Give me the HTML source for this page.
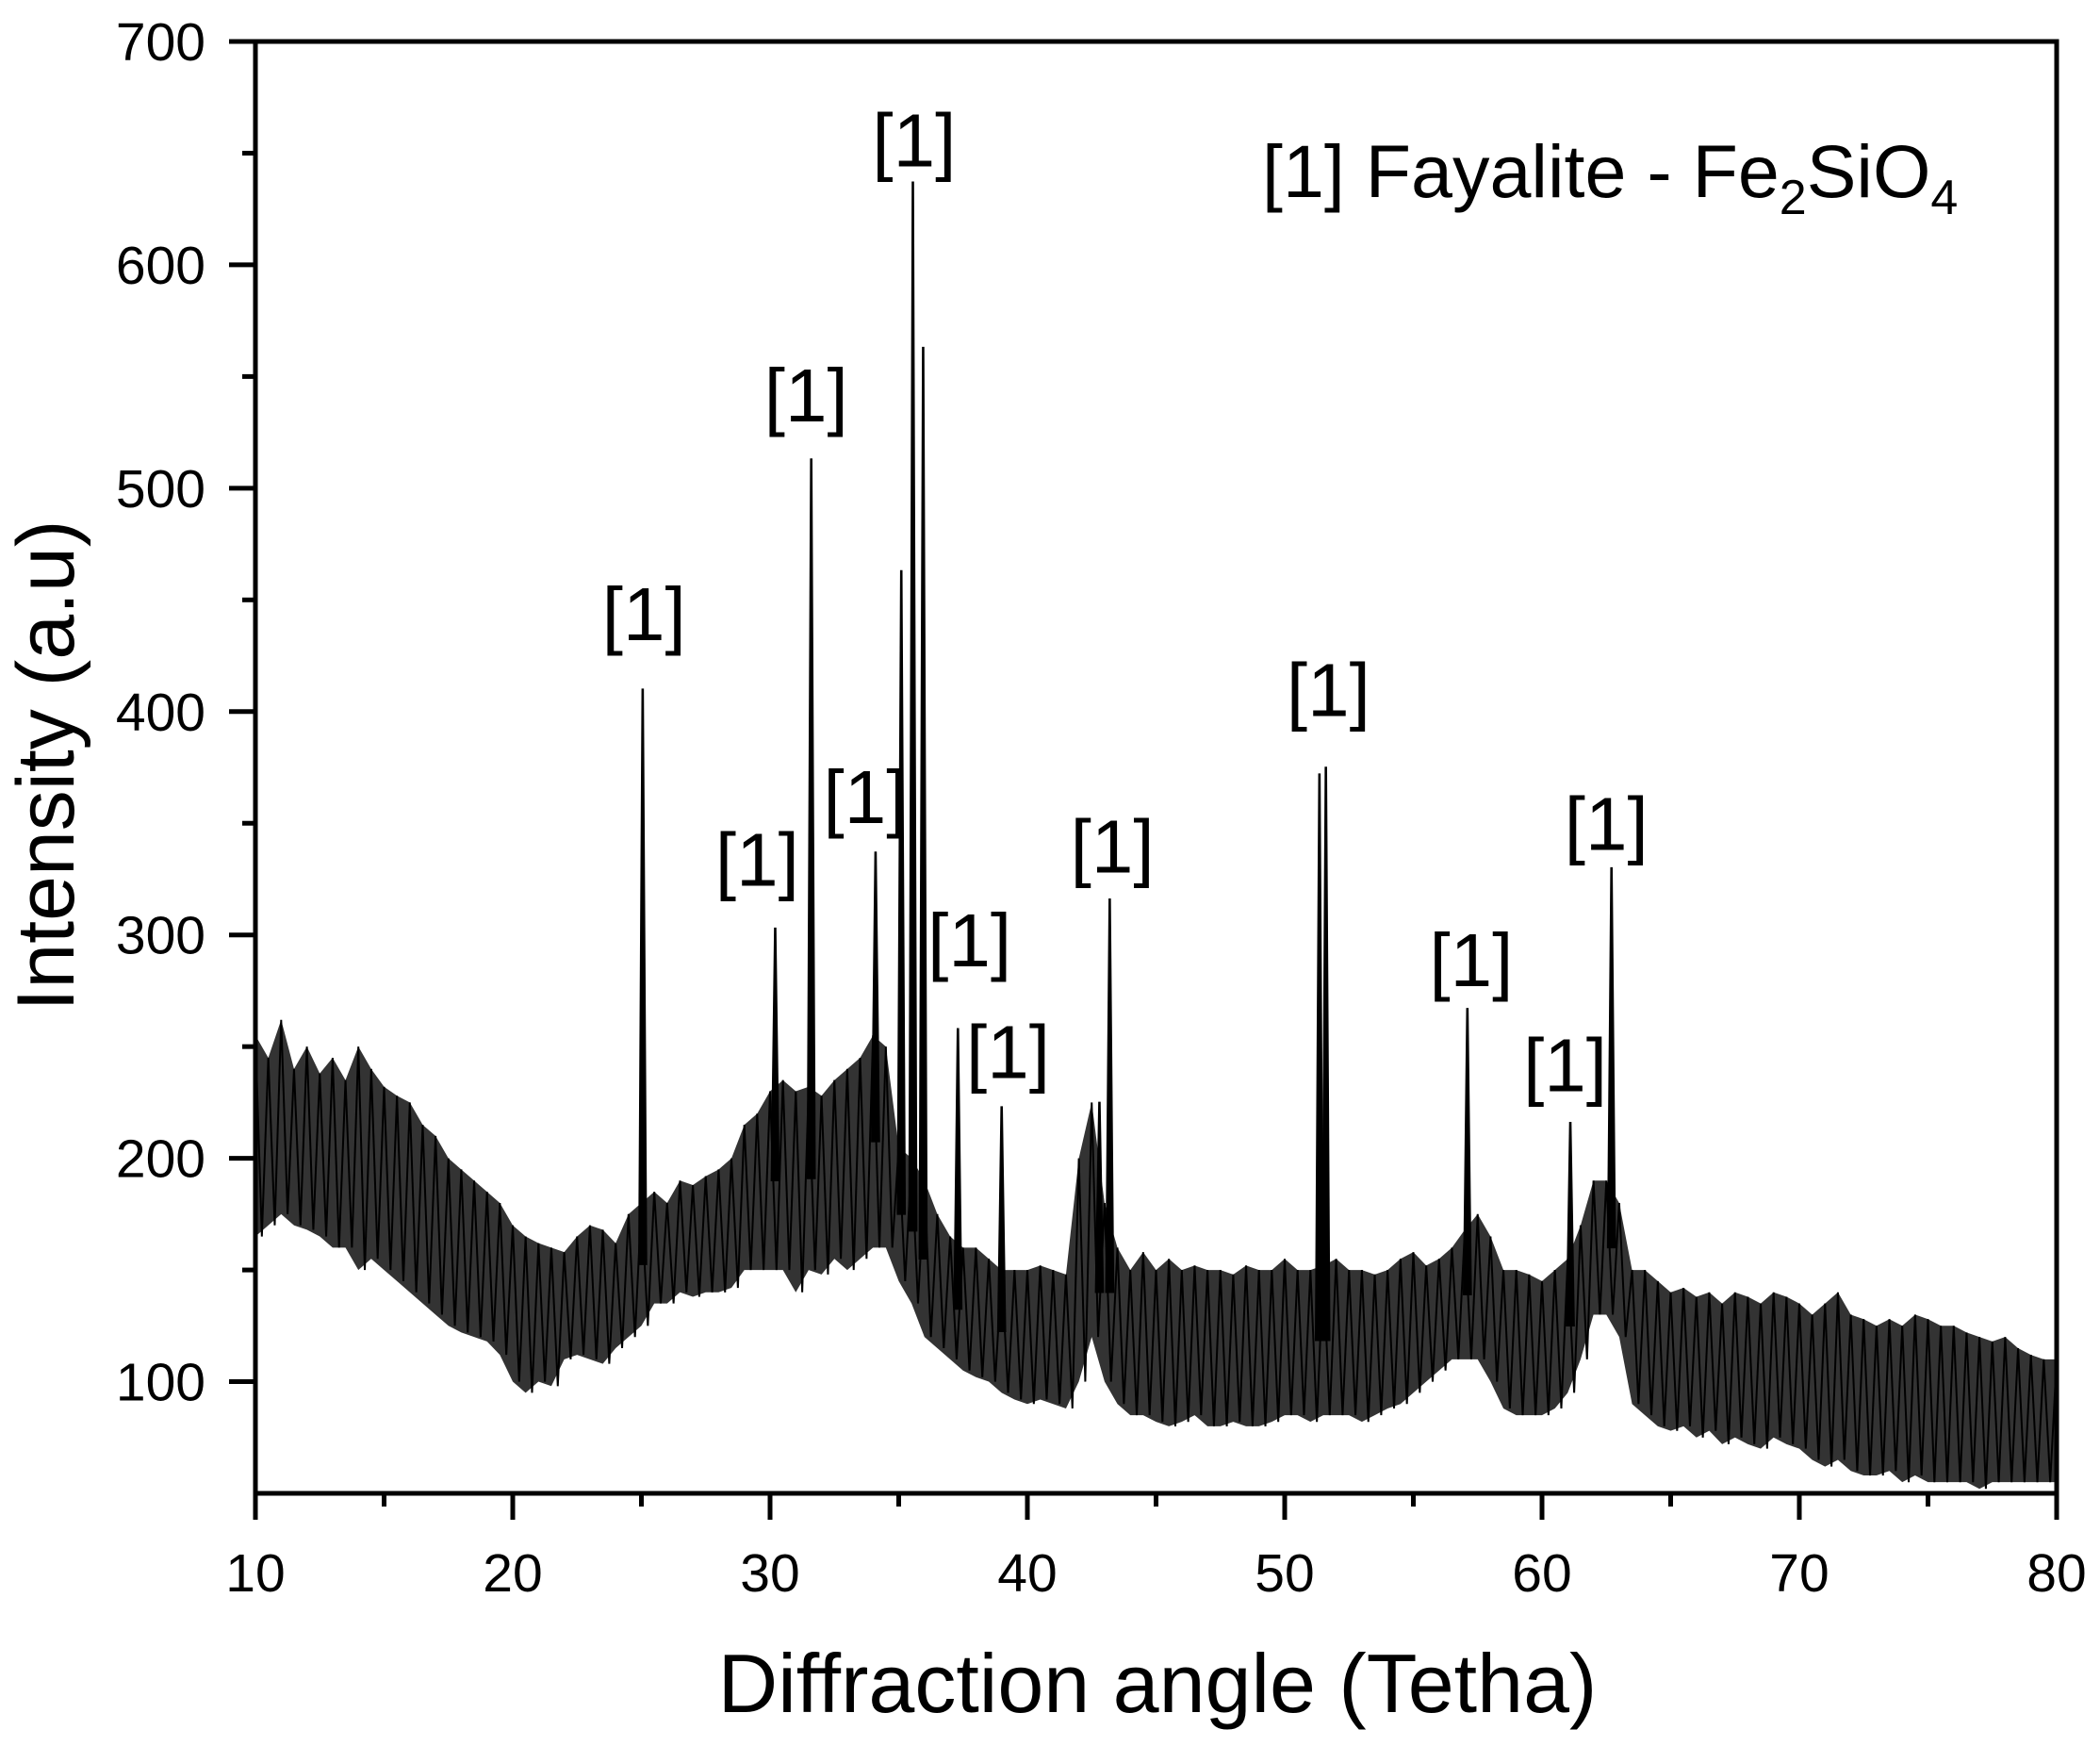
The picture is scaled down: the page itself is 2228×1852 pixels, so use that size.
<!DOCTYPE html>
<html><head><meta charset="utf-8"><style>
html,body{margin:0;padding:0;background:#fff}
svg{display:block;font-family:"Liberation Sans",Arial,sans-serif}
</style></head><body>
<svg id="chart" width="2228" height="1852" viewBox="0 0 2228 1852" xmlns="http://www.w3.org/2000/svg">
<g id="plot"></g>
<text x="1228" y="1816" font-size="88" text-anchor="middle">Diffraction angle (Tetha)</text>
<text transform="translate(78,812) rotate(-90)" font-size="86" text-anchor="middle">Intensity (a.u)</text>
<text x="1339" y="209" font-size="79">[1] Fayalite - Fe<tspan font-size="52" dy="18">2</tspan><tspan dy="-18">SiO</tspan><tspan font-size="52" dy="18">4</tspan></text>
</svg>
<script>
// noise envelope, 0.5° steps from 10 to 80
const angleStart = 10, angleStep = 0.5;
const upper = [255,245,262,240,250,238,245,235,250,240,232,228,225,215,210,200,195,190,185,180,170,165,162,160,158,165,170,168,162,175,180,185,180,190,188,192,195,200,215,220,230,235,230,232,228,235,240,245,255,250,205,200,190,175,165,160,160,155,150,150,150,152,150,148,200,225,180,160,150,158,150,155,150,152,150,150,148,152,150,150,155,150,150,152,155,150,150,148,150,155,158,152,155,160,168,175,165,150,150,148,145,150,155,170,190,190,180,150,150,145,140,142,138,140,135,140,138,135,140,138,135,130,135,140,130,128,125,128,125,130,128,125,125,122,120,118,120,115,112,110,110];
const lower = [165,170,175,170,168,165,160,160,150,155,150,145,140,135,130,125,122,120,118,112,100,95,100,98,110,112,110,108,115,120,125,135,135,140,138,140,140,142,150,150,150,150,140,150,148,155,150,155,160,160,145,135,120,115,110,105,102,100,95,92,90,92,90,88,100,120,100,90,85,85,82,80,82,85,80,80,82,80,80,82,85,85,82,85,85,85,82,85,88,90,95,100,105,110,110,110,100,88,85,85,85,88,95,110,130,130,120,90,85,80,78,80,75,78,72,75,72,70,75,72,70,65,62,65,60,58,58,60,55,58,55,55,55,55,52,55,55,55,55,55,55];
// peaks
const peakAngle = [25.05,30.2,31.6,34.1,35.1,35.55,35.95,37.3,39.0,42.8,43.2,51.35,51.6,57.1,61.1,62.7];
const peakHeight = [410,303,513,337,463,637,563,258,223,225,316,372,375,267,216,330];
const labelAngle = [25.1,31.4,35.6,29.5,33.7,37.75,39.25,43.3,51.7,57.25,60.9,62.5];
const labelValue = [432,530,644,322,350,286,236,328,398,277,230,338];
const xTicks = [10,20,30,40,50,60,70,80];
const yTicks = [100,200,300,400,500,600,700];

const L=271,R=2182,T=44,B=1584,xmin=10,xmax=80,ymin=50,ymax=700;
const X=v=>L+(v-xmin)/(xmax-xmin)*(R-L);
const Y=v=>B-(v-ymin)/(ymax-ymin)*(B-T);
const NS="http://www.w3.org/2000/svg";
const g=document.getElementById('plot');
function mk(t,a){const e=document.createElementNS(NS,t);for(const k in a)e.setAttribute(k,a[k]);g.appendChild(e);return e;}

let pts=[];
for(let i=0;i<upper.length;i++)pts.push(X(angleStart+i*angleStep)+','+Y(upper[i]));
for(let i=lower.length-1;i>=0;i--)pts.push(X(angleStart+i*angleStep)+','+Y(lower[i]));
const band=mk('polygon',{points:pts.join(' '),fill:'#000','fill-opacity':'0.8',stroke:'none'});


let z=[];
for(let i=0;i<upper.length;i++){
  const a=angleStart+i*angleStep;
  z.push(X(a)+','+Y(upper[i]));
  if(i<upper.length-1)z.push(X(a+angleStep/2)+','+Y(lower[i]));
}
const zz=mk('polyline',{points:z.join(' '),fill:'none',stroke:'#000','stroke-width':'2'});


for(let i=0;i<peakAngle.length;i++){
  const a=peakAngle[i],idx=Math.round((a-angleStart)/angleStep);
  const base=(upper[idx]+lower[idx])/2;
  const p=mk('polygon',{points:`${X(a-0.15)},${Y(base)} ${X(a-0.02)},${Y(peakHeight[i])} ${X(a+0.02)},${Y(peakHeight[i])} ${X(a+0.15)},${Y(base)}`,fill:'#000',stroke:'#000','stroke-width':'1.5'});
  
  
}
for(let i=0;i<labelAngle.length;i++){
  const t=mk('text',{x:X(labelAngle[i]),y:Y(labelValue[i]),'font-size':'80','text-anchor':'middle'});
  t.textContent='[1]';
  
  
}
const fr=mk('rect',{x:L,y:T,width:R-L,height:B-T,fill:'none',stroke:'#000','stroke-width':'5'});


for(let v=10;v<=80;v+=5){
  const major=v%10===0;
  const l=mk('line',{x1:X(v),x2:X(v),y1:B,y2:B+(major?28:14),stroke:'#000','stroke-width':'5'});
  
  
}
xTicks.forEach(v=>{
  const t=mk('text',{x:X(v),y:1688,'font-size':'57','text-anchor':'middle'});
  t.textContent=v;
  
  
});
for(let v=100;v<=700;v+=50){
  const major=v%100===0;
  const l=mk('line',{x1:L,x2:L-(major?28:14),y1:Y(v),y2:Y(v),stroke:'#000','stroke-width':'5'});
  
  
}
yTicks.forEach(v=>{
  const t=mk('text',{x:218,y:Y(v)+20,'font-size':'57','text-anchor':'end'});
  t.textContent=v;
  
  
});
</script>
</body></html>
